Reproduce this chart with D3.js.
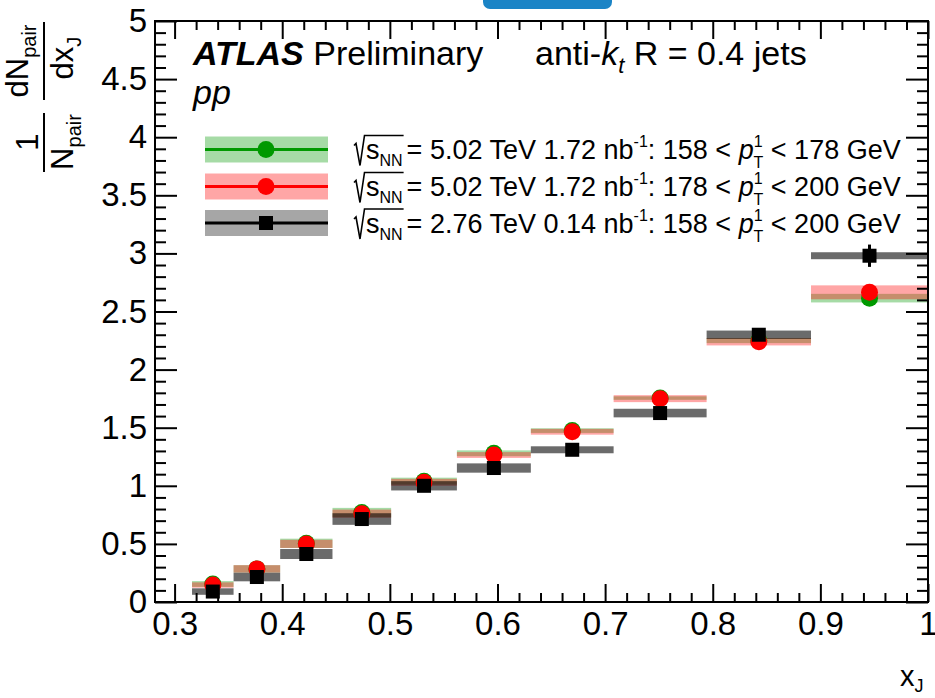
<!DOCTYPE html>
<html>
<head>
<meta charset="utf-8">
<script src="https://cdn.jsdelivr.net/npm/d3@7"></script>
<style>
body { margin: 0; background: #fff; }
text { font-family: "Liberation Sans", Arial, Helvetica, sans-serif; fill: #000; }
</style>
</head>
<body>
<div class="chart"></div>
<script>
// x_J bin edges (log-spaced, as in the measurement)
const binEdges = [0.3162, 0.3548, 0.3981, 0.4467, 0.5012, 0.5623, 0.6310, 0.7079, 0.7943, 0.8913, 1.0];

// 5.02 TeV, 158 < pT1 < 178 GeV
const lowVals = [0.155, 0.285, 0.505, 0.77, 1.04, 1.28, 1.475, 1.755, 2.25, 2.615];
const lowSys  = [0.025, 0.032, 0.040, 0.040, 0.030, 0.025, 0.020, 0.015, 0.022, 0.037];
const lowStat = [0.01, 0.01, 0.01, 0.01, 0.01, 0.01, 0.01, 0.01, 0.02, 0.03];

// 5.02 TeV, 178 < pT1 < 200 GeV
const highVals = [0.146, 0.285, 0.50, 0.76, 1.03, 1.265, 1.465, 1.75, 2.24, 2.665];
const highSys  = [0.023, 0.032, 0.035, 0.035, 0.030, 0.025, 0.025, 0.030, 0.032, 0.060];
const highStat = [0.01, 0.01, 0.01, 0.01, 0.01, 0.01, 0.01, 0.02, 0.02, 0.04];

// 2.76 TeV, 158 < pT1 < 200 GeV
const oldVals = [0.09, 0.215, 0.413, 0.714, 1.0, 1.153, 1.31, 1.626, 2.30, 2.98];
const oldSys  = [0.028, 0.037, 0.043, 0.050, 0.040, 0.040, 0.030, 0.037, 0.036, 0.030];
const oldStat = [0.02, 0.02, 0.02, 0.03, 0.03, 0.03, 0.03, 0.04, 0.05, 0.096];

const xTicks = [0.3, 0.4, 0.5, 0.6, 0.7, 0.8, 0.9, 1];
const yTicks = [0, 0.5, 1, 1.5, 2, 2.5, 3, 3.5, 4, 4.5, 5];

const legendRows = [
  {energy: "5.02", lumi: "1.72", lo: "158", hi: "178"},
  {energy: "5.02", lumi: "1.72", lo: "178", hi: "200"},
  {energy: "2.76", lumi: "0.14", lo: "158", hi: "200"}
];

let width = 935, height = 698;
let margin = {top: 21, right: 7, bottom: 96, left: 155};

let svg = d3.select('.chart').append('svg')
    .attr('width', width)
    .attr('height', height);

let x = d3.scaleLinear().domain([0.2818, 1]).range([margin.left, width - margin.right]);
let y = d3.scaleLinear().domain([0, 5]).range([height - margin.bottom, margin.top]);

// the blue tab at the very top
svg.append('rect')
    .attr('x', 483).attr('y', -10)
    .attr('width', 129).attr('height', 19)
    .attr('rx', 7)
    .attr('fill', '#1b84c6');

let series = [
  {vals: lowVals, sys: lowSys, stat: lowStat, color: '#009900', band: 0.35, shape: 'circle'},
  {vals: highVals, sys: highSys, stat: highStat, color: '#ff0000', band: 0.35, shape: 'circle'},
  {vals: oldVals, sys: oldSys, stat: oldStat, color: '#000000', band: 0.58, shape: 'square'}
];

let mid = i => (binEdges[i] + binEdges[i + 1]) / 2;

// systematic bands
series.forEach(s => {
  svg.append('g').selectAll('rect')
    .data(s.vals)
    .join('rect')
    .attr('x', (d, i) => x(binEdges[i]))
    .attr('width', (d, i) => x(binEdges[i + 1]) - x(binEdges[i]))
    .attr('y', (d, i) => y(d + s.sys[i]))
    .attr('height', (d, i) => y(d - s.sys[i]) - y(d + s.sys[i]))
    .attr('fill', s.color)
    .attr('fill-opacity', s.band);
});

// stat errors + markers
series.forEach(s => {
  let g = svg.append('g');
  g.selectAll('line')
    .data(s.vals)
    .join('line')
    .attr('x1', (d, i) => x(mid(i))).attr('x2', (d, i) => x(mid(i)))
    .attr('y1', (d, i) => y(d - s.stat[i]))
    .attr('y2', (d, i) => y(d + s.stat[i]))
    .attr('stroke', s.color)
    .attr('stroke-width', 3);
  if (s.shape === 'circle') {
    g.selectAll('circle')
      .data(s.vals)
      .join('circle')
      .attr('cx', (d, i) => x(mid(i)))
      .attr('cy', d => y(d))
      .attr('r', 8.5)
      .attr('fill', s.color);
  } else {
    g.selectAll('rect')
      .data(s.vals)
      .join('rect')
      .attr('x', (d, i) => x(mid(i)) - 7)
      .attr('y', d => y(d) - 7)
      .attr('width', 14).attr('height', 14)
      .attr('fill', s.color);
  }
});

// axes (ROOT style: ticks inside, mirrored on top/right)
let xMinor = d3.range(0.30, 1.0001, 0.02).filter(v => Math.abs(v * 10 - Math.round(v * 10)) > 1e-6);
let yMinor = d3.range(0, 5.0001, 0.1).filter(v => Math.abs(v * 2 - Math.round(v * 2)) > 1e-6);

function styleAxis(g, fs) {
  g.select('.domain').remove();
  g.selectAll('line').attr('stroke', '#000').attr('stroke-width', 2);
  g.selectAll('text').attr('font-size', fs).attr('fill', '#000')
    .style('font-family', '"Liberation Sans", Arial, sans-serif');
}

let bottomY = y(0), topY = y(5), leftX = x.range()[0], rightX = x.range()[1];

svg.append('g').attr('transform', `translate(0,${bottomY})`)
  .call(d3.axisBottom(x).tickValues(xTicks).tickSize(-18).tickSizeOuter(0).tickPadding(10).tickFormat(d3.format('')))
  .call(g => styleAxis(g, 33));
svg.append('g').attr('transform', `translate(0,${bottomY})`)
  .call(d3.axisBottom(x).tickValues(xMinor).tickSize(-9).tickSizeOuter(0).tickFormat(''))
  .call(g => styleAxis(g, 0));
svg.append('g').attr('transform', `translate(0,${topY})`)
  .call(d3.axisTop(x).tickValues(xTicks).tickSize(-18).tickSizeOuter(0).tickFormat(''))
  .call(g => styleAxis(g, 0));
svg.append('g').attr('transform', `translate(0,${topY})`)
  .call(d3.axisTop(x).tickValues(xMinor).tickSize(-9).tickSizeOuter(0).tickFormat(''))
  .call(g => styleAxis(g, 0));

svg.append('g').attr('transform', `translate(${leftX},0)`)
  .call(d3.axisLeft(y).tickValues(yTicks).tickSize(-22).tickSizeOuter(0).tickPadding(8).tickFormat(d3.format('')))
  .call(g => styleAxis(g, 33));
svg.append('g').attr('transform', `translate(${leftX},0)`)
  .call(d3.axisLeft(y).tickValues(yMinor).tickSize(-11).tickSizeOuter(0).tickFormat(''))
  .call(g => styleAxis(g, 0));
svg.append('g').attr('transform', `translate(${rightX},0)`)
  .call(d3.axisRight(y).tickValues(yTicks).tickSize(-22).tickSizeOuter(0).tickFormat(''))
  .call(g => styleAxis(g, 0));
svg.append('g').attr('transform', `translate(${rightX},0)`)
  .call(d3.axisRight(y).tickValues(yMinor).tickSize(-11).tickSizeOuter(0).tickFormat(''))
  .call(g => styleAxis(g, 0));

svg.append('rect')
    .attr('x', leftX).attr('y', topY)
    .attr('width', rightX - leftX).attr('height', bottomY - topY)
    .attr('fill', 'none')
    .attr('stroke', '#000')
    .attr('stroke-width', 2);

// axis titles
let xt = svg.append('text')
    .attr('x', 900).attr('y', 686)
    .attr('font-size', 29);
xt.append('tspan').text('x');
xt.append('tspan').attr('font-size', 18).attr('dy', 6).text('J');

let yt = svg.append('g').attr('transform', 'rotate(-90)');
function frac(parent, u, v, main, sub, fs) {
  let t = parent.append('text')
      .attr('x', u).attr('y', v)
      .attr('text-anchor', 'middle')
      .attr('font-size', fs);
  t.append('tspan').text(main);
  if (sub) t.append('tspan').attr('font-size', 20).attr('dy', 8).text(sub);
}
frac(yt, -61, 28, 'dN', 'pair', 31);
frac(yt, -58, 73, 'dx', 'J', 31);
frac(yt, -142, 38, '1', null, 31);
frac(yt, -142, 73, 'N', 'pair', 31);
yt.append('line').attr('x1', -22).attr('x2', -100).attr('y1', 44).attr('y2', 44)
  .attr('stroke', '#000').attr('stroke-width', 2);
yt.append('line').attr('x1', -113).attr('x2', -172).attr('y1', 44).attr('y2', 44)
  .attr('stroke', '#000').attr('stroke-width', 2);

// labels
let atlas = svg.append('text').attr('x', 193).attr('y', 65).attr('font-size', 34);
atlas.append('tspan').attr('font-weight', 'bold').attr('font-style', 'italic').text('ATLAS');
atlas.append('tspan').text(' Preliminary');

let jets = svg.append('text').attr('x', 535).attr('y', 65).attr('font-size', 34);
jets.append('tspan').text('anti-');
jets.append('tspan').attr('font-style', 'italic').text('k');
jets.append('tspan').attr('font-style', 'italic').attr('font-size', 22).attr('dy', 8).text('t');
jets.append('tspan').attr('dy', -8).text(' R = 0.4 jets');

svg.append('text').attr('x', 193).attr('y', 104).attr('font-size', 34)
    .attr('font-style', 'italic').text('pp');

// legend
let legendY = [149.5, 186.5, 223];
let lg = svg.append('g');
series.forEach((s, k) => {
  let cy = legendY[k];
  lg.append('rect')
    .attr('x', 205).attr('y', cy - 13)
    .attr('width', 123).attr('height', 26)
    .attr('fill', s.color).attr('fill-opacity', 0.35);
  lg.append('line')
    .attr('x1', 205).attr('x2', 328).attr('y1', cy).attr('y2', cy)
    .attr('stroke', s.color).attr('stroke-width', 3);
  if (s.shape === 'circle') {
    lg.append('circle').attr('cx', 266).attr('cy', cy).attr('r', 8.5).attr('fill', s.color);
  } else {
    lg.append('rect').attr('x', 259).attr('y', cy - 7).attr('width', 14).attr('height', 14).attr('fill', s.color);
  }

  let r = legendRows[k];
  let base = cy + 9.5;
  let sText = lg.append('text').attr('x', 366).attr('y', base).attr('font-size', 27);
  sText.append('tspan').text('s');
  sText.append('tspan').attr('font-size', 16).attr('dy', 7).text('NN');
  let sw = sText.node().getComputedTextLength();
  let xEnd = 366 + sw + 1;
  lg.append('path')
    .attr('d', `M354,${cy - 4} L356,${cy - 6} L360,${cy + 16} L364.5,${cy - 14} L${xEnd},${cy - 14}`)
    .attr('fill', 'none').attr('stroke', '#000').attr('stroke-width', 1.6);

  let t = lg.append('text').attr('x', xEnd + 3).attr('y', base).attr('font-size', 27);
  t.append('tspan').text(`= ${r.energy} TeV ${r.lumi} nb`);
  t.append('tspan').attr('font-size', 16).attr('dy', -12).text('-1');
  t.append('tspan').attr('dy', 12).text(`: ${r.lo} < `);
  t.append('tspan').attr('font-style', 'italic').text('p');
  t.append('tspan').attr('font-size', 16).attr('dy', -12).text('1');
  t.append('tspan').attr('font-size', 16).attr('dx', -9).attr('dy', 21).text('T');
  t.append('tspan').attr('dy', -9).text(` < ${r.hi} GeV`);
});
</script>
</body>
</html>
